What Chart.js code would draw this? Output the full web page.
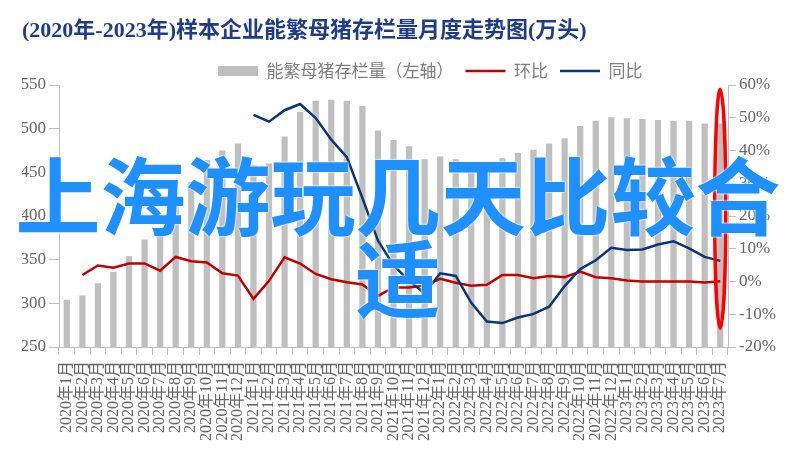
<!DOCTYPE html>
<html><head><meta charset="utf-8">
<script src="https://cdn.jsdelivr.net/npm/chart.js@4/dist/chart.umd.min.js"></script>
<style>
html,body{margin:0;padding:0;background:#fff;}
#wrap{position:relative;width:796px;height:461px;}
#overlay{position:absolute;left:0;top:150px;width:796px;text-align:center;font-family:'Noto Sans CJK SC',sans-serif;font-weight:700;font-size:85px;line-height:83px;color:#1e90ff;pointer-events:none;text-shadow:0 0 2px #fff,0 0 2px #fff;}
</style></head><body>
<div id="wrap"><canvas id="c"></canvas><div id="overlay">上海游玩几天比较合适</div></div>
<script>
const categories = [
 "2020年1月","2020年2月","2020年3月","2020年4月","2020年5月","2020年6月","2020年7月","2020年8月","2020年9月","2020年10月","2020年11月","2020年12月",
 "2021年1月","2021年2月","2021年3月","2021年4月","2021年5月","2021年6月","2021年7月","2021年8月","2021年9月","2021年10月","2021年11月","2021年12月",
 "2022年1月","2022年2月","2022年3月","2022年4月","2022年5月","2022年6月","2022年7月","2022年8月","2022年9月","2022年10月","2022年11月","2022年12月",
 "2023年1月","2023年2月","2023年3月","2023年4月","2023年5月","2023年6月","2023年7月"];
const sowStock = [
 304,309,323,336,354,373,386,414,439,464,475,483,
 458,460,491,519,532,533,532,526,498,487,480,465,
 468,465,461,457,466,472,476,483,489,503,509,513,
 512,511,510,509,509,506,506];
const momChange = [
 null,2.0,4.9,4.2,5.5,5.5,3.3,7.5,6.2,5.8,2.5,1.8,
 -5.3,0.2,7.4,5.5,2.3,0.7,-0.2,-0.9,-4.4,-1.8,-1.8,-1.2,
 0.8,-0.4,-1.3,-1.0,2.0,2.0,1.0,1.7,1.3,3.0,1.3,1.0,
 0.3,0.0,0.0,0.0,0.0,-0.3,0.1];
const yoyChange = [
 null,null,null,null,null,null,null,null,null,null,null,null,
 50.9,48.8,52.3,54.2,49.9,43.3,38.0,25.5,12.5,5.0,0.2,-3.6,
 2.5,1.7,-6.5,-12.2,-12.7,-11.0,-9.9,-7.7,-1.4,3.8,6.5,10.3,
 9.6,9.8,11.3,12.3,10.1,7.5,6.3];
const leftAxisTicks = [250,550,50];
const rightAxisTicks = [-20,60,10];
const seriesNames = ["能繁母猪存栏量（左轴）","环比","同比"];
const chartTitle = "(2020年-2023年)样本企业能繁母猪存栏量月度走势图(万头)";
const highlight = {index: 42, top: 58.7, bottom: -14.3};

const serif = "'Liberation Serif','Noto Sans CJK SC',serif";
const axisColor = '#bfbfbf';
const tickColor = '#666666';

const legendShift = {
  id: 'legendShift',
  afterLayout(chart) {
    const l = chart.legend;
    if (!l) return;
    const pad = l.options.labels.padding;
    const dx = 218 - (l.left + pad);
    l.left += dx; l.right += dx;
    l.top += 4.5; l.bottom += 4.5;
  }
};
const ellipsePlugin = {
  id: 'highlightEllipse',
  afterDraw(chart) {
    const ctx = chart.ctx;
    const x = chart.scales.x.getPixelForValue(highlight.index);
    const yT = chart.scales.y1.getPixelForValue(highlight.top);
    const yB = chart.scales.y1.getPixelForValue(highlight.bottom);
    ctx.save();
    ctx.beginPath();
    ctx.ellipse(x, (yT + yB) / 2, 5.5, (yB - yT) / 2, 0, 0, Math.PI * 2);
    ctx.strokeStyle = '#ff0000';
    ctx.lineWidth = 3.5;
    ctx.stroke();
    ctx.restore();
  }
};

new Chart(document.getElementById('c'), {
  data: {
    labels: categories,
    datasets: [
      {type:'bar', label: seriesNames[0], data: sowStock, yAxisID:'y', backgroundColor:'#bfbfbf', borderWidth:0, barPercentage:0.4, categoryPercentage:1.0, order:3, pointStyle:'rect'},
      {type:'line', label: seriesNames[1], data: momChange, yAxisID:'y1', borderColor:'#c00000', backgroundColor:'#c00000', borderWidth:2.5, pointRadius:0, tension:0, order:2, pointStyle:'line'},
      {type:'line', label: seriesNames[2], data: yoyChange, yAxisID:'y1', borderColor:'#0c3578', backgroundColor:'#0c3578', borderWidth:2.5, pointRadius:0, tension:0, order:1, pointStyle:'line'}
    ]
  },
  options: {
    responsive: true,
    maintainAspectRatio: false,
    animation: false,
    devicePixelRatio: 1,
    layout: {padding: {left: 22, right: 0, top: 0, bottom: 0}},
    plugins: {
      title: {display:true, text: chartTitle, align:'start', color:'#1f3c88',
        font:{family: serif, size:22, weight:'bold'}, padding:{top:17.8, bottom:1.8}},
      legend: {display:true, position:'top', align:'start',
        labels:{usePointStyle:true, pointStyleWidth:40, boxHeight:10, padding:12, color:'#7f7f7f',
          font:{family:"'Noto Sans CJK SC',sans-serif", size:17},
          sort:(a,b)=>a.datasetIndex-b.datasetIndex}},
      tooltip: {enabled:false}
    },
    scales: {
      x: {
        offset: true,
        grid: {offset:true, drawOnChartArea:false, drawTicks:true, tickLength:8, color:axisColor},
        border: {display:true, color:axisColor},
        ticks: {autoSkip:false, minRotation:90, maxRotation:90, padding:6, color:tickColor, font:{family:serif, size:16}},
        afterFit(s){ s.height = 114; }
      },
      y: {
        position:'left', min:leftAxisTicks[0], max:leftAxisTicks[1],
        grid: {drawOnChartArea:false, drawTicks:true, tickLength:10, color:axisColor},
        border: {display:true, color:axisColor},
        ticks: {stepSize:leftAxisTicks[2], padding:3, color:tickColor, font:{family:serif, size:17}},
        afterFit(s){ s.width = 37; }
      },
      y1: {
        position:'right', min:rightAxisTicks[0], max:rightAxisTicks[1],
        grid: {drawOnChartArea:false, drawTicks:true, tickLength:8, color:axisColor},
        border: {display:true, color:axisColor},
        ticks: {stepSize:rightAxisTicks[2], padding:3, color:tickColor, font:{family:serif, size:17}, callback:(v)=>v+'%'},
        afterFit(s){ s.width = 68; }
      }
    }
  },
  plugins: [legendShift, ellipsePlugin]
});
</script>
</body></html>
